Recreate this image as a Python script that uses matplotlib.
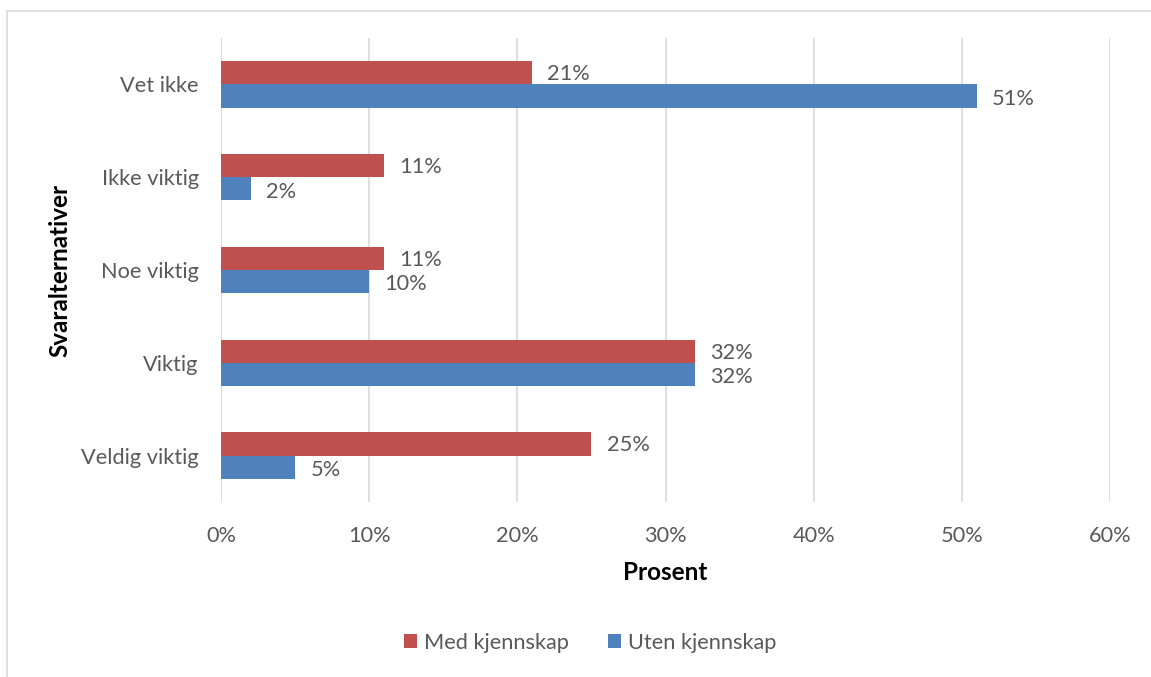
import matplotlib
matplotlib.use("Agg")
import matplotlib.pyplot as plt
from matplotlib.lines import Line2D
from matplotlib.patches import Patch
import numpy as np

categories = ["Veldig viktig", "Viktig", "Noe viktig", "Ikke viktig", "Vet ikke"]
med_kjennskap = [25, 32, 11, 11, 21]
uten_kjennskap = [5, 32, 10, 2, 51]
series_names = ["Med kjennskap", "Uten kjennskap"]
xticks = [0, 10, 20, 30, 40, 50, 60]
xtick_labels = ["0%", "10%", "20%", "30%", "40%", "50%", "60%"]

RED = "#C0504D"
BLUE = "#4F81BD"
TXT = "#595959"
GRID = "#D9D9D9"

plt.rcParams['font.family'] = ['Lato', 'DejaVu Sans']

W, H = 1151, 677
fig = plt.figure(figsize=(W / 100, H / 100), dpi=100)
fig.patch.set_facecolor("white")

# chart border (left and top visible)
fig.add_artist(Line2D([7.5 / W, 7.5 / W], [0, 1 - 10.5 / H], color=GRID, lw=1.2, transform=fig.transFigure))
fig.add_artist(Line2D([7.5 / W, 1], [1 - 10.5 / H, 1 - 10.5 / H], color=GRID, lw=1.2, transform=fig.transFigure))

left, right = 221 / W, 1110 / W
top, bottom = 1 - 38 / H, 1 - 502 / H
ax = fig.add_axes([left, bottom, right - left, top - bottom])

y = np.arange(len(categories))
h = 0.25
ax.barh(y + h / 2, med_kjennskap, height=h, color=RED, label=series_names[0], zorder=3)
ax.barh(y - h / 2, uten_kjennskap, height=h, color=BLUE, label=series_names[1], zorder=3)

fs = 15.7
for yi, v in zip(y, med_kjennskap):
    ax.annotate(f"{v}%", (v, yi + h / 2), xytext=(11, -1), textcoords="offset points",
                va="center", ha="left", fontsize=fs, color=TXT)
for yi, v in zip(y, uten_kjennskap):
    ax.annotate(f"{v}%", (v, yi - h / 2), xytext=(11, -2), textcoords="offset points",
                va="center", ha="left", fontsize=fs, color=TXT)

ax.set_xlim(0, 60)
ax.set_ylim(-0.5, len(categories) - 0.5)
ax.set_xticks(xticks)
ax.set_xticklabels(xtick_labels)
ax.set_yticks(y)
ax.set_yticklabels(categories)
ax.tick_params(axis="both", length=0, labelsize=fs, colors=TXT)
ax.tick_params(axis="x", pad=17)
ax.tick_params(axis="y", pad=16)
ax.grid(axis="x", color=GRID, lw=1.2, zorder=0)
for s in ax.spines.values():
    s.set_visible(False)
ax.axvline(0, color=GRID, lw=1.2, zorder=1)

fig.text((left + right) / 2, 1 - 573 / H, "Prosent", ha="center", va="center",
         fontsize=17.5, fontweight="bold", color="black")
fig.text(60 / W, 1 - 270 / H, "Svaralternativer", ha="center", va="center",
         rotation=90, fontsize=17.5, fontweight="bold", color="black")

handles = [Patch(facecolor=RED), Patch(facecolor=BLUE)]
fig.legend(handles, series_names, loc="center", bbox_to_anchor=(590 / W, 1 - 643 / H),
           ncol=2, frameon=False, fontsize=fs, labelcolor=TXT,
           handlelength=0.6, handleheight=0.6, handletextpad=0.3, columnspacing=1.8)

fig.savefig("out.png", dpi=100, facecolor="white")
